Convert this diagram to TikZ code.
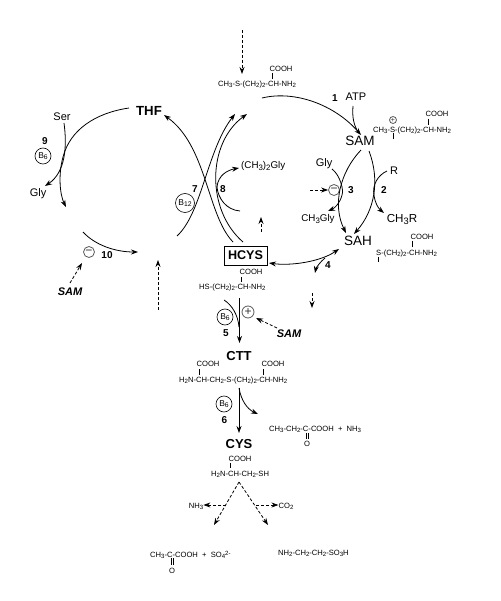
\documentclass[tikz,border=0pt]{standalone}
\usepackage{fontspec}
\setmainfont{Liberation Sans}
\usetikzlibrary{arrows.meta}
\newcommand\dn[1]{\raisebox{-.3ex}{\fontsize{\fpeval{.8*\csname f@size\endcsname}}{1}\selectfont #1}}
\newcommand\up[1]{\raisebox{.5ex}{\fontsize{\fpeval{.8*\csname f@size\endcsname}}{1}\selectfont #1}}
\tikzset{
  txt/.style={inner sep=0pt,text height=.72em,text depth=0pt},
  formula/.style={txt,font=\fontsize{7.6}{9}\selectfont},
  lab/.style={txt,font=\fontsize{11}{13}\selectfont},
  mid/.style={txt,font=\fontsize{9.8}{12}\selectfont},
  big/.style={txt,font=\fontsize{13.5}{15}\selectfont},
  bigb/.style={txt,font=\fontsize{13}{15}\bfseries\selectfont},
  num/.style={txt,font=\fontsize{10}{12}\bfseries\selectfont},
  samb/.style={txt,font=\fontsize{11}{13}\bfseries\itshape\selectfont},
  cof/.style={circle,draw,line width=.6pt,inner sep=0pt,minimum size=16pt,font=\fontsize{8.5}{10}\selectfont},
  sign/.style={circle,draw=black!65,line width=.8pt,inner sep=0pt,minimum size=#1,font=\fontsize{12}{12}\selectfont,text=black!80},
  sign/.default=11pt,
  ln/.style={line width=.8pt},
  arr/.style={line width=.8pt,-{Stealth[length=7pt,width=5pt]}},
  darr/.style={line width=.8pt,densely dashed,-{Stealth[length=7pt,width=5pt]}},
  bond/.style={line width=.5pt},
}
\begin{document}
\begin{tikzpicture}[x=1pt,y=-1pt]
\useasboundingbox (0,0) rectangle (500,601);
% --- methionine
\coordinate (metin) at (242,30);
\coordinate (metout) at (242,74);
\node[formula,anchor=west] (met) at (218,83) {CH\dn{3}-S-(CH\dn{2})\dn{2}-CH-NH\dn{2}};
\node[formula] (metc) at (281,68) {COOH};
\draw[bond] (272,73) -- (272,79);
\draw[darr] (metin) -- (metout);
% --- right cycle labels
\node[lab] (atp) at (356,97) {ATP};
\node[num] (n1) at (335,98) {1};
\node[big] (sam) at (360,142) {SAM};
\node[formula,anchor=west] (samf) at (373,129) {CH\dn{3}-S-(CH\dn{2})\dn{2}-CH-NH\dn{2}};
\node[formula] (samc) at (437,113) {COOH};
\draw[bond] (428,119) -- (428,125);
\node[sign=7pt,font=\fontsize{7}{7}\selectfont] (samplus) at (393,120) {+};
\draw[bond] (393,133) -- (393,139);
\node[big] (sah) at (358,242) {SAH};
\node[formula,anchor=west] (sahf) at (376,252) {S-(CH\dn{2})\dn{2}-CH-NH\dn{2}};
\node[formula] (sahc) at (422,236) {COOH};
\draw[bond] (412,241) -- (412,247);
\draw[bond] (378,257) -- (378,262);
\node[lab] (gly2) at (324,163) {Gly};
\node[mid] (ch3gly) at (318,218) {CH\dn{3}Gly};
\node[sign] (minus3) at (334,190) {\textminus};
\coordinate (d3) at (310,190);
\node[num] (n3) at (351,190) {3};
\node[num] (n2) at (384,190) {2};
\node[lab] (r) at (394,171) {R};
\node[txt,font=\fontsize{11.6}{13}\selectfont] (ch3r) at (402,219) {CH\dn{3}R};
\node[num] (n4) at (328,265) {4};
% --- HCYS
\node[draw,line width=.7pt,inner sep=0pt,minimum width=43pt,minimum height=19pt,font=\fontsize{12.6}{15}\bfseries\selectfont] (hcys) at (245.5,255.5) {HCYS};
\node[formula] (hc) at (251,271) {COOH};
\draw[bond] (241,277) -- (241,282);
\node[formula,anchor=west] (hf) at (199,286) {HS-(CH\dn{2})\dn{2}-CH-NH\dn{2}};
% --- left cycle
\node[txt,font=\fontsize{13.2}{15}\bfseries\selectfont] (thf) at (149,112) {THF};
\node[lab] (ser) at (62,117) {Ser};
\node[lab] (gly) at (38,193) {Gly};
\node[num] (n9) at (45,141) {9};
\node[cof] (b6a) at (43,156) {B\dn{6}};
\node[num] (n7) at (195,189) {7};
\node[cof,minimum size=19pt] (b12) at (185,203) {B\dn{12}};
\node[num] (n8) at (223,189) {8};
\node[mid,anchor=west] (dmg) at (241,165) {(CH\dn{3})\dn{2}Gly};
\node[sign] (minus10) at (89,252) {\textminus};
\node[num] (n10) at (107,255) {10};
\node[samb] (sam10) at (70,292) {SAM};
% --- lower
\node[sign=12pt] (plus5) at (248,312) {+};
\node[cof] (b6b) at (225,317) {B\dn{6}};
\node[num] (n5) at (226,333) {5};
\node[samb] (sam5) at (289,334) {SAM};
\node[bigb] (ctt) at (239,357) {CTT};
\node[formula] (cc1) at (208,363) {COOH};
\node[formula] (cc2) at (273,363) {COOH};
\draw[bond] (199,369) -- (199,375);
\draw[bond] (263,369) -- (263,375);
\node[formula,anchor=west] (cf) at (179,379) {H\dn{2}N-CH-CH\dn{2}-S-(CH\dn{2})\dn{2}-CH-NH\dn{2}};
\node[cof] (b6c) at (224,404) {B\dn{6}};
\node[num] (n6) at (224.5,420) {6};
\node[formula,anchor=west] (pyr) at (269,428) {CH\dn{3}-CH\dn{2}-C-COOH\ \ +\ \ NH\dn{3}};
\draw[bond] (306,433) -- (306,439) (308,433) -- (308,439);
\node[formula] (pyro) at (307,443) {O};
\node[bigb] (cys) at (239,445) {CYS};
\node[formula] (cyc) at (240,458) {COOH};
\draw[bond] (230,463) -- (230,468);
\node[formula,anchor=west] (cyf) at (211,473) {H\dn{2}N-CH-CH\dn{2}-SH};
\node[formula] (nh3) at (196,505) {NH\dn{3}};
\node[formula] (co2) at (286,505) {CO\dn{2}};
\node[formula,anchor=west] (pyr2) at (150,554) {CH\dn{3}-C-COOH\ \ +\ \ SO\dn{4}\up{2-}};
\draw[bond] (171,558) -- (171,565) (173,558) -- (173,565);
\node[formula] (pyr2o) at (172,570) {O};
\node[formula,anchor=west] (tau) at (278,552) {NH\dn{2}-CH\dn{2}-CH\dn{2}-SO\dn{3}H};
% --- free ends
\coordinate (a1) at (262,98);
\coordinate (samin) at (361,135);
\coordinate (samL) at (361,150);
\coordinate (samR) at (369,151);
\coordinate (sahL) at (346,233);
\coordinate (sahR) at (354,234);
\coordinate (hcysE) at (269,263);
\coordinate (sahW) at (339,249);
\coordinate (x1) at (177,236);
\coordinate (x2) at (235,114);
\coordinate (x3) at (233,242);
\coordinate (x4) at (164,115);
\coordinate (x5) at (243,242);
\coordinate (x6) at (247,114);
\coordinate (thfW) at (129,108);
\coordinate (lend) at (66,207);
\coordinate (b1) at (83,232);
\coordinate (b2) at (138,252);
\coordinate (v5a) at (239.5,298);
\coordinate (v5b) at (239.5,343);
\coordinate (v6a) at (239,388);
\coordinate (v6b) at (239,433);
\coordinate (cysb) at (239,482);
\coordinate (cysl) at (214,525);
\coordinate (cysr) at (268,525);
\coordinate (atps) at (353,106);
\coordinate (atpe) at (358,132);
\coordinate (glys) at (332,169);
\coordinate (glye) at (328,211);
\coordinate (rs) at (387,171);
\coordinate (re) at (384,213);
\coordinate (sers) at (64,123);
\coordinate (glyn) at (45,186);
\coordinate (s10a) at (70,283);
\coordinate (s10b) at (82,263);
\coordinate (s5a) at (277,328);
\coordinate (s5b) at (256,318);
\coordinate (g8a) at (240,211);
\coordinate (g8m) at (217,187);
\coordinate (g8e) at (239,168);
\coordinate (f4a) at (325,258);
\coordinate (f4b) at (315,273);
\coordinate (d4a) at (312,293);
\coordinate (d4b) at (312,308);
\coordinate (d8a) at (261,232);
\coordinate (d8b) at (261,217);
\coordinate (d10a) at (158,310);
\coordinate (d10b) at (158,260);
\coordinate (v5c) at (224,300);
\coordinate (v5d) at (239,327);
\coordinate (v6c) at (258,414);
\coordinate (nh3s) at (226,505);
\coordinate (co2s) at (256,505);
% --- connectors
\draw[arr] (a1) .. controls (295,90) and (335,105) .. (samin);
\draw[ln] (atps) .. controls (352,118) and (354,125) .. (atpe);
\draw[arr] (samL) .. controls (340,172) and (332,205) .. (sahL);
\draw[arr] (samR) .. controls (380,180) and (375,210) .. (sahR);
\draw[arr] (glys) .. controls (340,175) and (344,190) .. (342,195) .. controls (340,203) and (335,208) .. (glye);
\draw[darr] (d3) -- (minus3.west);
\draw[arr] (rs) .. controls (378,175) and (372,185) .. (374,195) .. controls (375,203) and (378,208) .. (re);
\draw[{Stealth[length=7pt,width=5pt]}-{Stealth[length=7pt,width=5pt]},line width=.8pt] (hcysE) .. controls (290,266) and (320,262) .. (sahW);
\draw[arr] (f4a) .. controls (320,262) and (316,268) .. (f4b);
\draw[darr] (d4a) -- (d4b);
\draw[darr] (d8a) -- (d8b);
\draw[arr] (x1) .. controls (202,213) and (207,150) .. (x2);
\draw[arr] (x3) .. controls (207,215) and (207,146) .. (x4);
\draw[arr] (x5) .. controls (206,210) and (207,143) .. (x6);
\draw[ln] (g8a) .. controls (226,210) and (218,198) .. (g8m);
\draw[arr] (g8m) .. controls (218,175) and (228,170) .. (g8e);
\draw[arr] (thfW) .. controls (95,113) and (70,130) .. (63,157) .. controls (58,175) and (60,195) .. (lend);
\draw[arr] (sers) .. controls (67,145) and (66,172) .. (glyn);
\draw[arr] (b1) .. controls (95,245) and (115,252) .. (b2);
\draw[darr] (s10a) -- (s10b);
\draw[darr] (d10a) -- (d10b);
\draw[arr] (v5a) -- (v5b);
\draw[ln] (v5c) .. controls (232,305) and (238,315) .. (v5d);
\draw[darr] (s5a) -- (s5b);
\draw[arr] (v6a) -- (v6b);
\draw[arr] (v6a) .. controls (241,400) and (247,409) .. (v6c);
\draw[darr] (cysb) -- (cysl);
\draw[darr] (cysb) -- (cysr);
\draw[darr] (nh3s) -- (nh3.east);
\draw[darr] (co2s) -- (co2.west);
\end{tikzpicture}
\end{document}
